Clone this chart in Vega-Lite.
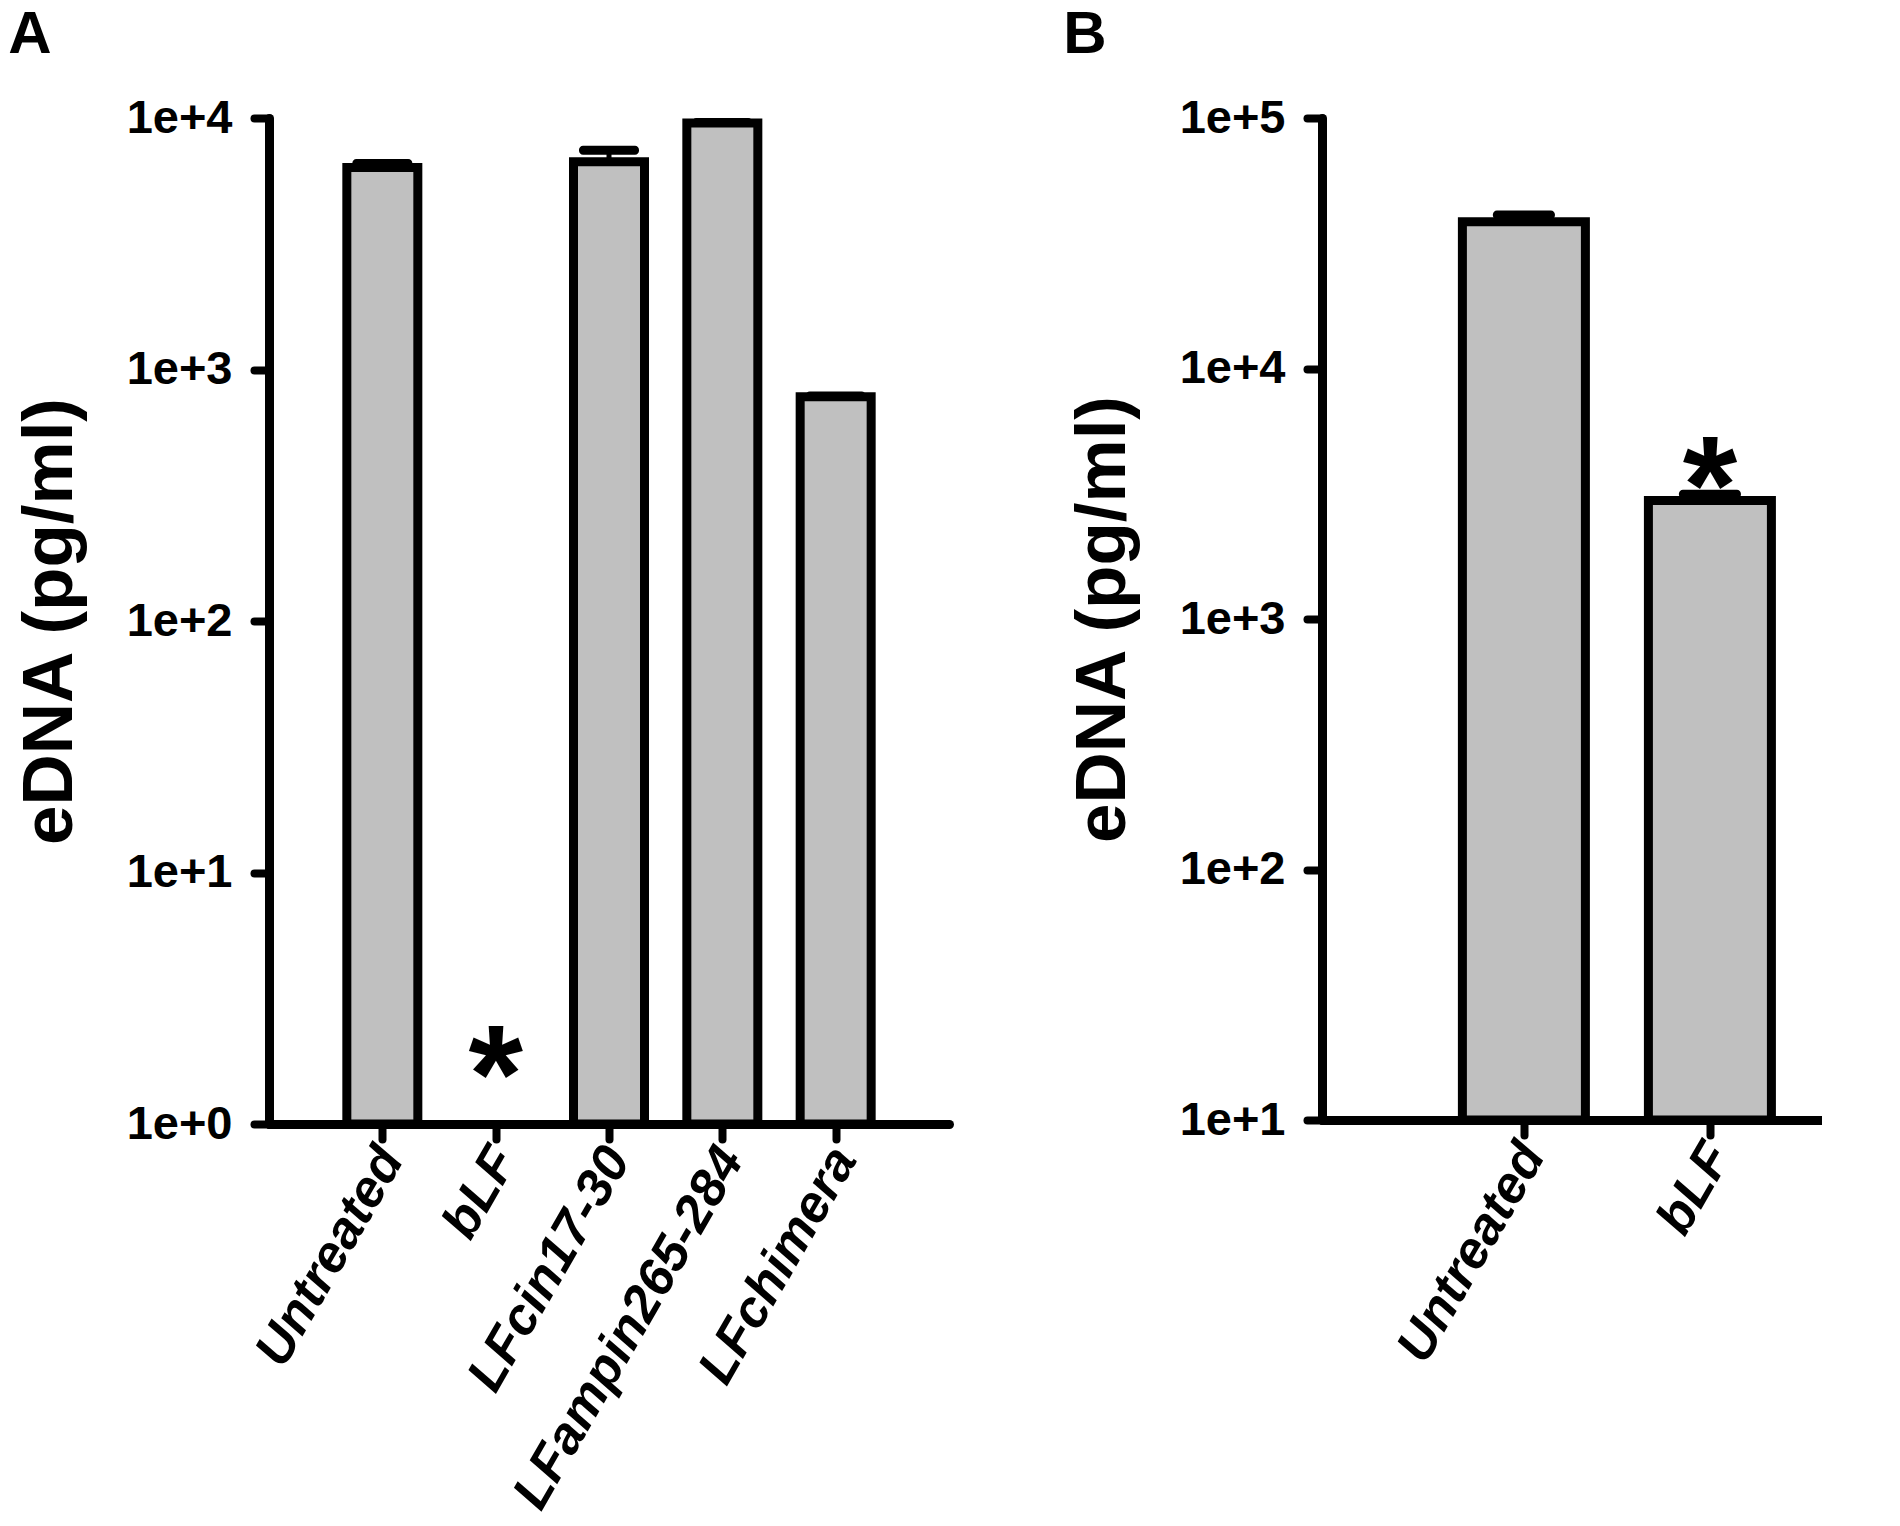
{
  "$schema": "https://vega.github.io/schema/vega-lite/v6.json",
  "background": "white",
  "padding": {"left": 8, "top": 5, "right": 0, "bottom": 0},
  "spacing": 114,
  "hconcat": [
    {
      "title": {"text": "A", "offset": 28, "dx": -6},
      "width": 680,
      "height": 1006,
      "data": {
        "values": [
          {"group": "Untreated", "value": 6350, "upper": 6600},
          {"group": "bLF", "value": null, "upper": null, "sig": "*"},
          {"group": "LFcin17-30", "value": 6700, "upper": 7450},
          {"group": "LFampin265-284", "value": 9550, "upper": 9600},
          {"group": "LFchimera", "value": 780, "upper": 785}
        ]
      },
      "encoding": {
        "x": {
          "field": "group", "type": "nominal",
          "scale": {"type": "point", "padding": 1.03,
            "domain": ["Untreated", "bLF", "LFcin17-30", "LFampin265-284", "LFchimera"]},
          "axis": {"title": null, "labelAngle": -60, "labelFontStyle": "italic", "labelFontSize": 52, "labelPadding": 12, "labelOffset": 8, "labelLimit": 0}
        }
      },
      "layer": [
        {
          "mark": {"type": "bar", "fill": "#c0c0c0", "stroke": "black", "strokeWidth": 9, "width": 71},
          "encoding": {
            "y": {
              "field": "value", "type": "quantitative",
              "scale": {"type": "log", "domain": [1, 10000]},
              "axis": {"title": "eDNA (pg/ml)", "values": [1, 10, 100, 1000, 10000], "format": ".0e", "titlePadding": 40}
            },
            "y2": {"datum": 1}
          }
        },
        {
          "mark": {"type": "rule", "strokeWidth": 5, "color": "black"},
          "encoding": {
            "y": {"field": "value", "type": "quantitative"},
            "y2": {"field": "upper"}
          }
        },
        {
          "mark": {"type": "tick", "thickness": 9, "size": 60, "color": "black", "opacity": 1, "cornerRadius": 4},
          "encoding": {"y": {"field": "upper", "type": "quantitative"}}
        },
        {
          "transform": [{"filter": "datum.sig"}],
          "mark": {"type": "text", "fontSize": 140, "fontWeight": "bold", "baseline": "middle", "dy": -44, "color": "black"},
          "encoding": {"y": {"datum": 1}, "text": {"field": "sig"}}
        }
      ]
    },
    {
      "title": {"text": "B", "offset": 28, "dx": -4},
      "width": 500,
      "height": 1002,
      "data": {
        "values": [
          {"group": "Untreated", "value": 38500, "upper": 41000},
          {"group": "bLF", "value": 2970, "upper": 3150, "sig": "*"}
        ]
      },
      "encoding": {
        "x": {
          "field": "group", "type": "nominal",
          "scale": {"type": "point", "padding": 0.844, "align": 0.643, "domain": ["Untreated", "bLF"]},
          "axis": {"title": null, "labelAngle": -60, "labelFontStyle": "italic", "labelFontSize": 52, "labelPadding": 12, "labelOffset": 8, "labelLimit": 0}
        }
      },
      "layer": [
        {
          "mark": {"type": "bar", "fill": "#c0c0c0", "stroke": "black", "strokeWidth": 9, "width": 123},
          "encoding": {
            "y": {
              "field": "value", "type": "quantitative",
              "scale": {"type": "log", "domain": [10, 100000]},
              "axis": {"title": "eDNA (pg/ml)", "values": [10, 100, 1000, 10000, 100000], "format": ".0e", "titlePadding": 40}
            },
            "y2": {"datum": 10}
          }
        },
        {
          "mark": {"type": "rule", "strokeWidth": 5, "color": "black"},
          "encoding": {
            "y": {"field": "value", "type": "quantitative"},
            "y2": {"field": "upper"}
          }
        },
        {
          "mark": {"type": "tick", "thickness": 9, "size": 62, "color": "black", "opacity": 1, "cornerRadius": 4},
          "encoding": {"y": {"field": "upper", "type": "quantitative"}}
        },
        {
          "transform": [{"filter": "datum.sig"}],
          "mark": {"type": "text", "fontSize": 140, "fontWeight": "bold", "baseline": "middle", "dy": -3, "color": "black"},
          "encoding": {"y": {"field": "upper", "type": "quantitative"}, "text": {"field": "sig"}}
        }
      ]
    }
  ],
  "config": {
    "view": {"stroke": null},
    "font": "Liberation Sans",
    "axis": {
      "grid": false,
      "domainColor": "black", "domainWidth": 9, "domainCap": "round",
      "tickColor": "black", "tickWidth": 8, "tickSize": 15, "tickCap": "round",
      "labelColor": "black", "labelFont": "Liberation Sans", "labelFontWeight": "bold", "labelFontSize": 47, "labelPadding": 22,
      "titleColor": "black", "titleFont": "Liberation Sans", "titleFontWeight": "bold", "titleFontSize": 71
    },
    "title": {"font": "Liberation Sans", "fontSize": 60, "fontWeight": "bold", "anchor": "start", "frame": "bounds", "color": "black"}
  }
}
